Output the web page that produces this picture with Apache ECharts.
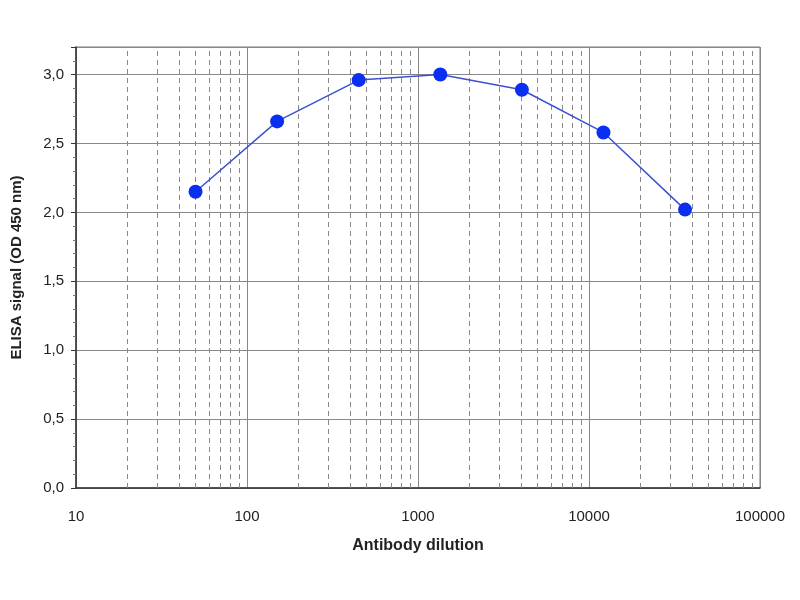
<!DOCTYPE html>
<html><head><meta charset="utf-8">
<script src="https://cdn.jsdelivr.net/npm/echarts@6/dist/echarts.min.js"></script>
<style>html,body{margin:0;padding:0;background:#fff}#c{width:800px;height:600px}</style>
</head><body><div id="c"></div>
<script>
var dilutions = [50, 150, 450, 1350, 4050, 12150, 36450];
var signals = [2.15, 2.66, 2.96, 3.00, 2.89, 2.58, 2.02];
var minorGrid = [20,30,40,50,60,70,80,90,200,300,400,500,600,700,800,900,2000,3000,4000,5000,6000,7000,8000,9000,20000,30000,40000,50000,60000,70000,80000,90000];
var yTicks = [0, 0.5, 1.0, 1.5, 2.0, 2.5, 3.0];

var chart = echarts.init(document.getElementById('c'));
var font = 'Liberation Sans, Arial, sans-serif';
chart.setOption({
  animation: false,
  grid: {left: 76, right: 40, top: 47, bottom: 112, show: true, borderColor: '#777', borderWidth: 1},
  xAxis: {
    type: 'log', logBase: 10, min: 10, max: 100000,
    name: 'Antibody dilution', nameLocation: 'middle', nameGap: 50,
    nameTextStyle: {fontFamily: font, fontSize: 16, fontWeight: 'bold', color: '#222'},
    axisLine: {show: true, lineStyle: {color: '#333', width: 1.5}},
    axisTick: {show: false},
    axisLabel: {fontFamily: font, fontSize: 15, color: '#222', margin: 21,
      formatter: function (v) { return String(Math.round(v)); }},
    splitLine: {show: true, lineStyle: {color: '#888', width: 1}}
  },
  yAxis: {
    type: 'value', min: 0, max: 3.2, interval: 0.5,
    name: 'ELISA signal (OD 450 nm)', nameLocation: 'middle', nameGap: 52,
    nameTextStyle: {fontFamily: font, fontSize: 15, fontWeight: 'bold', color: '#222'},
    axisLine: {show: true, lineStyle: {color: '#333', width: 1.5}},
    axisTick: {show: true, length: 5, inside: false, lineStyle: {color: '#333'}},
    minorTick: {show: true, splitNumber: 5, length: 3, lineStyle: {color: '#777'}},
    axisLabel: {fontFamily: font, fontSize: 15, color: '#222', margin: 12,
      formatter: function (v) {
        for (var i = 0; i < yTicks.length; i++) { if (Math.abs(v - yTicks[i]) < 1e-6) return yTicks[i].toFixed(1).replace('.', ','); }
        return '';
      }},
    splitLine: {show: true, lineStyle: {color: '#888', width: 1}}
  },
  series: [{
    type: 'line',
    data: dilutions.map(function (d, i) { return [d, signals[i]]; }),
    symbol: 'circle', symbolSize: 14,
    lineStyle: {color: '#3c50d2', width: 1.5},
    itemStyle: {color: '#0a2ff0'},
    z: 5,
    markLine: {
      silent: true, symbol: ['none', 'none'], label: {show: false},
      lineStyle: {color: '#888', type: [5, 4], width: 1},
      data: minorGrid.map(function (v) { return {xAxis: v}; }),
      z: 1
    }
  }]
});
</script></body></html>
